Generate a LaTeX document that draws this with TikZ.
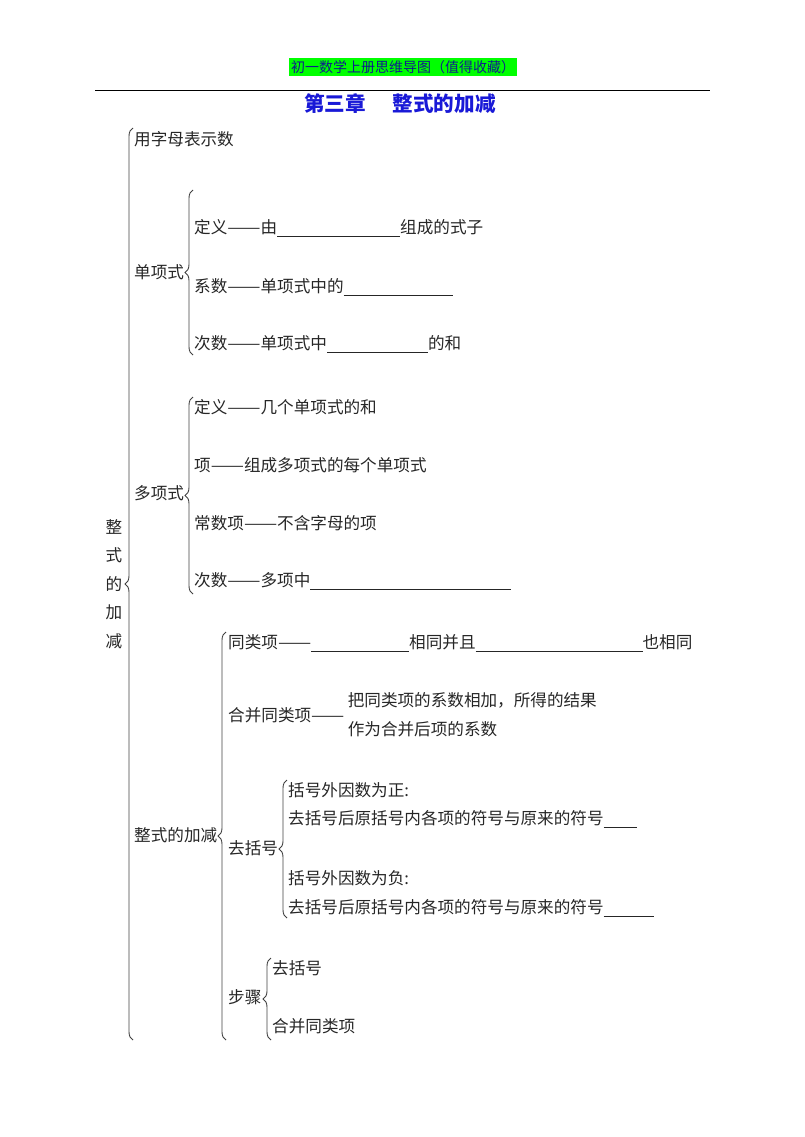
\documentclass[tikz,border=0pt]{standalone}
\usepackage{fontspec}
\usepackage{graphicx}
\setmainfont{Noto Sans CJK SC}
\usetikzlibrary{decorations.pathreplacing,positioning}
\definecolor{titleblue}{RGB}{25,25,215}
\definecolor{headnavy}{RGB}{15,30,140}
\definecolor{headgreen}{RGB}{0,255,0}
\tikzset{
    item/.style={anchor=west, inner sep=0pt, text=black!85, font=\fontsize{16.6}{20}\selectfont}, % one line of the outline
    brc/.style={decorate, decoration={brace, amplitude=8pt}, line width=0.9pt, black!75} % the curly brace joining a topic to its items
}
\newcommand{\blank}[1]{\rule[-2.5pt]{#1pt}{0.7pt}}
\newcommand{\ddash}{\resizebox{2em}{\height}{——}}

\begin{document}
\begin{tikzpicture}[x=1pt,y=-1pt]
\useasboundingbox (0,0) rectangle (804,1137);
% header
\node[fill=headgreen, inner sep=2pt, text=headnavy, font=\fontsize{14}{16}\selectfont] (head) at (403,67) {初一数学上册思维导图（值得收藏）};
\coordinate (rule-l) at (95,91);
\coordinate (rule-r) at (710,91);
\draw[line width=1pt] (rule-l) -- (rule-r);
\node[text=titleblue, font=\fontsize{20.6}{24}\selectfont\bfseries] (title) at (400,104) {第三章\hspace{1.3em}整式的加减};

% root
\node[item, anchor=center, align=center, font=\fontsize{16.6}{28.5}\selectfont] (root) at (114,584) {整\\式\\的\\加\\减};
\coordinate (root-t) at (133,128);
\coordinate (root-b) at (133,1040);
\draw[brc] (root-b) -- (root-t);

\node[item] (n1) at (134,139) {用字母表示数};

% monomial
\node[item] (n2) at (134,272) {单项式};
\coordinate (n2-t) at (193,190);
\coordinate (n2-b) at (193,355);
\draw[brc] (n2-b) -- (n2-t);
\node[item] (n21) at (194,228) {定义\ddash 由\blank{123}组成的式子};
\node[item] (n22) at (194,287) {系数\ddash 单项式中的\blank{109}};
\node[item] (n23) at (194,344) {次数\ddash 单项式中\blank{101}的和};

% polynomial
\node[item] (n3) at (134,493) {多项式};
\coordinate (n3-t) at (193,397);
\coordinate (n3-b) at (193,594);
\draw[brc] (n3-b) -- (n3-t);
\node[item] (n31) at (194,407) {定义\ddash 几个单项式的和};
\node[item] (n32) at (194,465) {项\ddash 组成多项式的每个单项式};
\node[item] (n33) at (194,523) {常数项\ddash 不含字母的项};
\node[item] (n34) at (194,581) {次数\ddash 多项中\blank{201}};

% addition and subtraction
\node[item] (n4) at (134,835) {整式的加减};
\coordinate (n4-t) at (226,632);
\coordinate (n4-b) at (226,1040);
\draw[brc] (n4-b) -- (n4-t);
\node[item] (n41) at (228,643) {同类项\ddash\blank{98}相同并且\blank{167}也相同};
\node[item] (n42) at (228,715) {合并同类项\ddash};
\node[item, right=3pt of n42, align=left, font=\fontsize{16.6}{29}\selectfont] (n42d) {把同类项的系数相加，所得的结果\\作为合并后项的系数};

\node[item] (n43) at (228,848) {去括号};
\coordinate (n43-t) at (287,780);
\coordinate (n43-b) at (287,918);
\draw[brc] (n43-b) -- (n43-t);
\node[item] (n431) at (288,790) {括号外因数为正:};
\node[item] (n432) at (288,819) {去括号后原括号内各项的符号与原来的符号\blank{33}};
\node[item] (n433) at (288,878) {括号外因数为负:};
\node[item] (n434) at (288,908) {去括号后原括号内各项的符号与原来的符号\blank{50}};

\node[item] (n44) at (228,997) {步骤};
\coordinate (n44-t) at (271,958);
\coordinate (n44-b) at (271,1040);
\draw[brc] (n44-b) -- (n44-t);
\node[item] (n441) at (272,968) {去括号};
\node[item] (n442) at (272,1026) {合并同类项};
\end{tikzpicture}
\end{document}
